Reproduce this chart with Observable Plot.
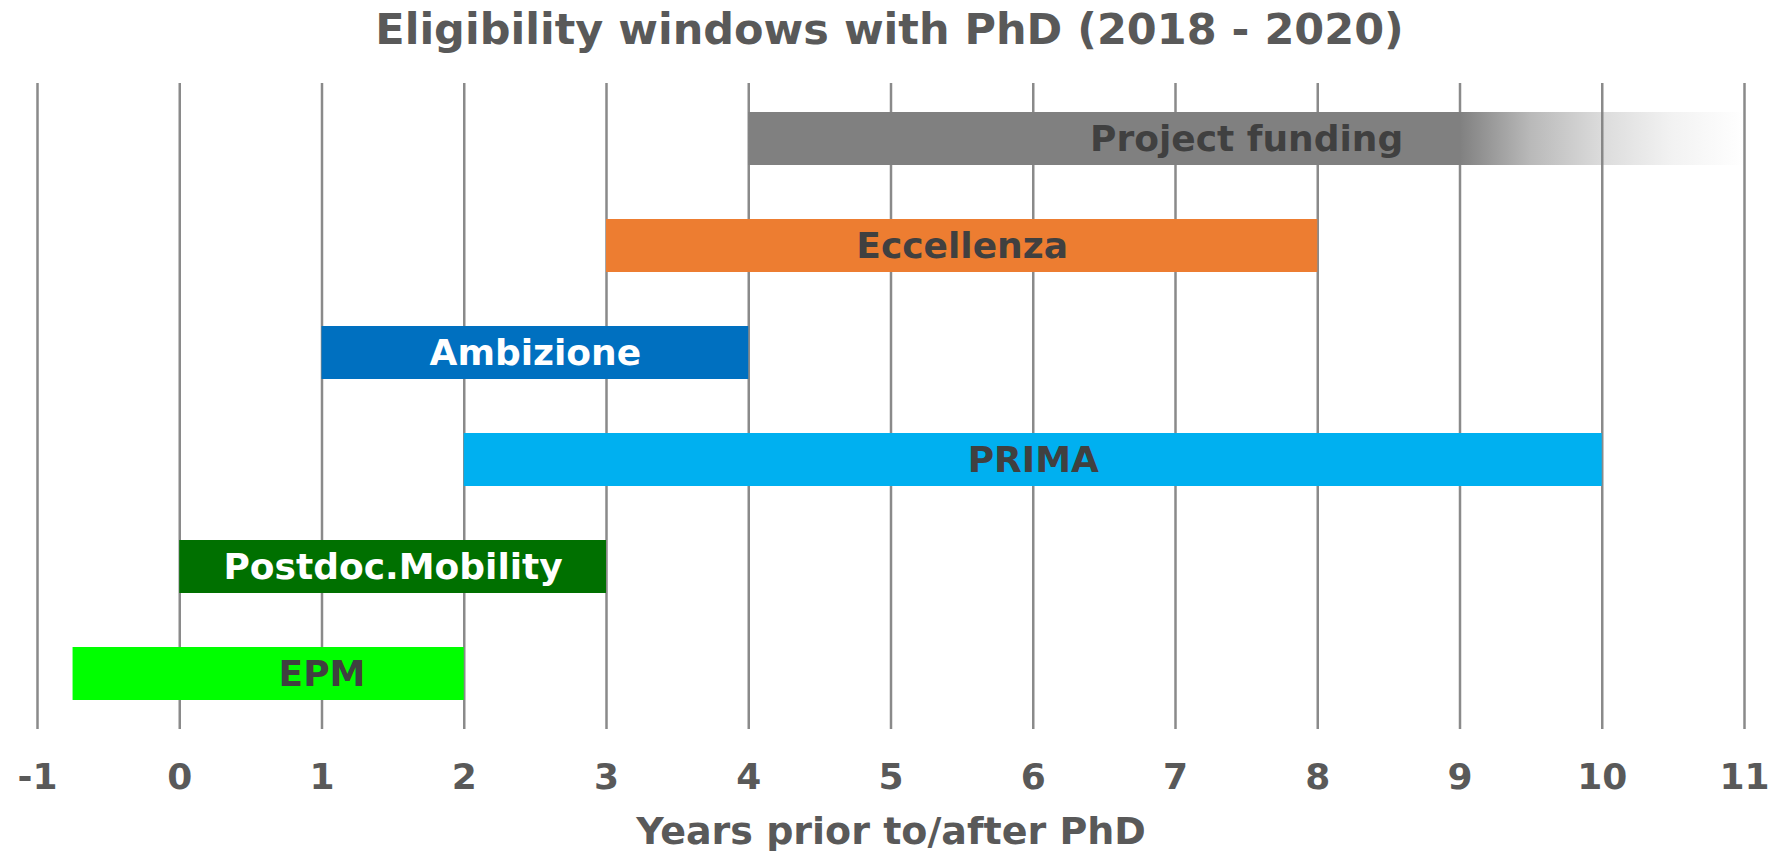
<!DOCTYPE html>
<html>
<head>
<meta charset="utf-8">
<script src="https://cdn.jsdelivr.net/npm/d3@7"></script>
<script src="https://cdn.jsdelivr.net/npm/@observablehq/plot@0.6"></script>
<style>
  html, body { margin: 0; padding: 0; background: #fff; }
  #title { height: 56px; line-height: 58px; text-align: center; font-family: "DejaVu Sans", Verdana, sans-serif; font-weight: bold; font-size: 43px; color: #595959; width: 1779px; overflow: visible; }
  svg { display: block; }
</style>
</head>
<body>
<div id="title">Eligibility windows with PhD (2018 - 2020)</div>
<div id="chart"></div>
<script>
const programs = ["Project funding", "Eccellenza", "Ambizione", "PRIMA", "Postdoc.Mobility", "EPM"];
const starts   = [4, 3, 1, 2, 0, -0.75];
const ends     = [11, 8, 4, 10, 3, 2];
const labelAt  = [7.5, 5.5, 2.5, 6, 1.5, 1];
const fills    = ["url(#fadeGray)", "#ED7D31", "#0070C0", "#00B0F0", "#007000", "#00FF00"];
const textFills = ["#404040", "#404040", "#FFFFFF", "#404040", "#FFFFFF", "#404040"];
const xTicks = [-1, 0, 1, 2, 3, 4, 5, 6, 7, 8, 9, 10, 11];
const xLabel = "Years prior to/after PhD";

const rows = programs.map((p, i) => ({program: p, start: starts[i], end: ends[i], label: labelAt[i], fill: fills[i], text: textFills[i]}));

const font = "'DejaVu Sans', Verdana, sans-serif";

const gradientDef = () => {
  const svg = d3.create("svg:defs");
  const g = svg.append("linearGradient").attr("id", "fadeGray").attr("x1", 0).attr("x2", 1).attr("y1", 0).attr("y2", 0);
  // bar runs from 4 to 11; fade begins at 9
  const stops = [[0, 1], [5/7, 1], [5.5/7, 0.55], [6/7, 0.28], [6.5/7, 0.1], [1, 0]];
  for (const [o, a] of stops) g.append("stop").attr("offset", o).attr("stop-color", "#808080").attr("stop-opacity", a);
  return svg.node();
};

const chart = Plot.plot({
  width: 1779,
  height: 795,
  marginTop: 27,
  marginBottom: 122,
  marginLeft: 37,
  marginRight: 35,
  style: {fontFamily: font, background: "#fff"},
  x: {domain: [-1, 11], ticks: xTicks},
  y: {domain: programs, paddingInner: 0.508, paddingOuter: 0.254, axis: null},
  marks: [
    gradientDef,
    Plot.ruleX(xTicks, {stroke: "#8a8a8a", strokeWidth: 2.5}),
    Plot.barX(rows, {x1: "start", x2: "end", y: "program", fill: "fill"}),
    Plot.text(rows, {x: "label", y: "program", text: "program", fill: "text", fontSize: 36, fontWeight: "bold", fontFamily: font}),
    Plot.axisX({ticks: xTicks, tickSize: 0, tickPadding: 48, lineAnchor: "middle", fontSize: 36, fontWeight: "bold", fill: "#595959", label: null, tickFormat: d => String(d).replace("\u2212", "-")}),
    Plot.text([xLabel], {frameAnchor: "bottom", dy: 114, text: d => d, fontSize: 38, fontWeight: "bold", fill: "#595959", fontFamily: font})
  ]
});
document.getElementById("chart").appendChild(chart);
</script>
</body>
</html>
